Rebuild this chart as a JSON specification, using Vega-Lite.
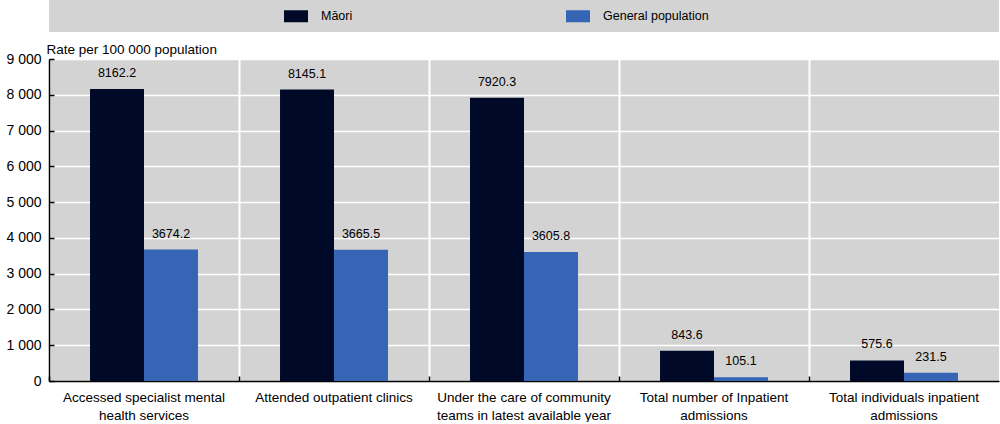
{
  "$schema": "https://vega.github.io/schema/vega-lite/v6.json",
  "padding": {"top": 0, "left": 5, "right": 2, "bottom": 0},
  "background": "white",
  "bounds": "flush",
  "config": {
    "view": {"fill": "#D3D3D3", "stroke": null},
    "font": "Liberation Sans",
    "concat": {"spacing": 27}
  },
  "vconcat": [
    {
      "width": 950,
      "height": 32,
      "data": {"values": [{"k": 1}]},
      "mark": {"type": "rect"},
      "encoding": {"color": {"value": "#D3D3D3"}}
    },
    {
      "width": 950,
      "height": 322,
      "data": {
        "values": [
          {"indicator": "Accessed specialist mental health services", "series": "Māori", "value": 8162.2},
          {"indicator": "Accessed specialist mental health services", "series": "General population", "value": 3674.2},
          {"indicator": "Attended outpatient clinics", "series": "Māori", "value": 8145.1},
          {"indicator": "Attended outpatient clinics", "series": "General population", "value": 3665.5},
          {"indicator": "Under the care of community teams in latest available year", "series": "Māori", "value": 7920.3},
          {"indicator": "Under the care of community teams in latest available year", "series": "General population", "value": 3605.8},
          {"indicator": "Total number of Inpatient admissions", "series": "Māori", "value": 843.6},
          {"indicator": "Total number of Inpatient admissions", "series": "General population", "value": 105.1},
          {"indicator": "Total individuals inpatient admissions", "series": "Māori", "value": 575.6},
          {"indicator": "Total individuals inpatient admissions", "series": "General population", "value": 231.5}
        ]
      },
      "encoding": {
        "x": {"field": "indicator", "type": "nominal", "sort": null, "scale": {"paddingInner": 0, "paddingOuter": 0}},
        "xOffset": {"field": "series", "type": "nominal", "sort": ["Māori", "General population"], "scale": {"paddingInner": 0, "paddingOuter": 0.76}},
        "y": {
          "field": "value", "type": "quantitative",
          "scale": {"domain": [0, 9000], "nice": false},
          "axis": {
            "values": [0, 1000, 2000, 3000, 4000, 5000, 6000, 7000, 8000, 9000],
            "labelExpr": "replace(format(datum.value, ','), ',', ' ')",
            "title": "Rate per 100 000 population",
            "titleAngle": 0, "titleAlign": "left", "titleBaseline": "alphabetic",
            "titleX": -3, "titleY": -6, "titleFontSize": 13.5, "titleFontWeight": "normal", "titleColor": "black",
            "labelFontSize": 14, "labelColor": "black", "labelPadding": 13,
            "domainColor": "black", "domainWidth": 1.5,
            "tickColor": "black", "tickSize": -5, "tickWidth": 1.5,
            "grid": true, "gridColor": "white", "gridWidth": 1.5
          }
        }
      },
      "resolve": {"axis": {"x": "independent"}},
      "layer": [
        {
          "mark": {"type": "bar"},
          "encoding": {
            "x": {"field": "indicator", "type": "nominal", "sort": null,
              "axis": {"orient": "bottom", "title": null, "labels": false, "bandPosition": 0,
                "grid": true, "gridColor": "white", "gridWidth": 2,
                "domainColor": "black", "domainWidth": 1.5,
                "tickColor": "black", "tickSize": -5, "tickWidth": 1.5}},
            "color": {
              "field": "series", "type": "nominal",
              "scale": {"domain": ["Māori", "General population"], "range": ["#000A28", "#3565B4"]},
              "legend": {
                "title": null, "orient": "none", "direction": "horizontal",
                "legendX": 235, "legendY": 4, "padding": 0,
                "symbolType": "M-1,-0.5H1V0.5H-1Z", "symbolSize": 576, "symbolStrokeWidth": 0,
                "labelFontSize": 12.5, "labelColor": "black", "labelOffset": 13, "columnPadding": 213
              }
            }
          }
        },
        {
          "mark": {"type": "text", "baseline": "bottom", "dy": -9, "fontSize": 12.5, "color": "black"},
          "encoding": {
            "x": {"field": "indicator", "type": "nominal", "sort": null,
              "axis": {"orient": "bottom", "title": null, "domain": false, "ticks": false, "grid": false,
                "labelAngle": 0, "labelFontSize": 13.5, "labelColor": "black", "labelPadding": 9, "labelLineHeight": 18,
                "labelLimit": 300,
                "labelExpr": "datum.label == 'Accessed specialist mental health services' ? ['Accessed specialist mental', 'health services'] : datum.label == 'Under the care of community teams in latest available year' ? ['Under the care of community', 'teams in latest available year'] : datum.label == 'Total number of Inpatient admissions' ? ['Total number of Inpatient', 'admissions'] : datum.label == 'Total individuals inpatient admissions' ? ['Total individuals inpatient', 'admissions'] : datum.label"}},
            "text": {"field": "value", "type": "quantitative", "format": ".1f"}
          }
        }
      ]
    }
  ]
}
